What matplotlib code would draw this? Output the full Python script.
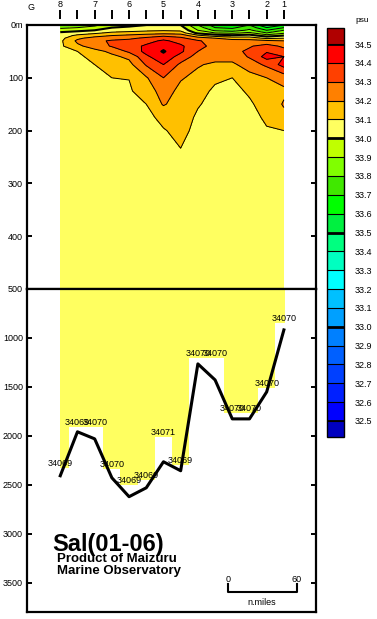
import numpy as np
import matplotlib
matplotlib.use('Agg')
import matplotlib.pyplot as plt
from matplotlib.colors import ListedColormap, BoundaryNorm

plt.rcParams['font.family'] = ['Liberation Sans', 'DejaVu Sans']

# section geometry (n.miles from G)
dist = [29, 44, 59, 74, 89, 104, 119, 134, 149, 164, 179, 194, 209, 224]
stn_names = ['8', '7', '6', '5', '4', '3', '2', '1']
stn_dist = [29, 59, 89, 119, 149, 179, 209, 224]
mid_dist = [44, 74, 104, 134, 164, 194]

depth = [0, 5, 10, 15, 20, 25, 30, 40, 50, 60, 75, 100, 125, 150, 175, 200, 250, 300, 400, 500]

# salinity profiles (psu), one list per column, same order as dist
sal = [
    [33.82, 33.88, 33.95, 34.02, 34.05, 34.07, 34.08, 34.08, 34.07, 34.07, 34.07, 34.07, 34.07, 34.07, 34.07, 34.07, 34.07, 34.07, 34.07, 34.07],
    [33.85, 33.90, 33.97, 34.05, 34.12, 34.18, 34.22, 34.18, 34.10, 34.08, 34.07, 34.07, 34.07, 34.07, 34.07, 34.07, 34.07, 34.07, 34.07, 34.07],
    [33.88, 33.93, 34.00, 34.08, 34.16, 34.24, 34.28, 34.24, 34.17, 34.13, 34.10, 34.08, 34.07, 34.07, 34.07, 34.07, 34.07, 34.07, 34.07, 34.07],
    [33.95, 34.00, 34.05, 34.12, 34.20, 34.27, 34.31, 34.31, 34.22, 34.18, 34.15, 34.10, 34.08, 34.07, 34.07, 34.07, 34.07, 34.07, 34.07, 34.07],
    [33.97, 34.02, 34.06, 34.14, 34.22, 34.28, 34.33, 34.35, 34.32, 34.22, 34.17, 34.102, 34.09, 34.08, 34.07, 34.07, 34.07, 34.07, 34.07, 34.07],
    [34.00, 34.04, 34.08, 34.15, 34.25, 34.32, 34.36, 34.42, 34.43, 34.38, 34.31, 34.19, 34.14, 34.10, 34.08, 34.07, 34.07, 34.07, 34.07, 34.07],
    [34.03, 34.06, 34.09, 34.16, 34.28, 34.36, 34.42, 34.47, 34.51, 34.47, 34.40, 34.30, 34.25, 34.21, 34.12, 34.095, 34.08, 34.07, 34.07, 34.07],
    [34.00, 34.04, 34.08, 34.15, 34.26, 34.32, 34.36, 34.42, 34.42, 34.36, 34.28, 34.21, 34.17, 34.15, 34.13, 34.12, 34.09, 34.08, 34.07, 34.07],
    [33.80, 33.85, 33.90, 33.97, 34.12, 34.25, 34.31, 34.32, 34.30, 34.26, 34.21, 34.17, 34.12, 34.105, 34.09, 34.08, 34.07, 34.07, 34.07, 34.07],
    [33.65, 33.70, 33.78, 33.90, 34.05, 34.20, 34.26, 34.28, 34.27, 34.24, 34.18, 34.11, 34.09, 34.08, 34.07, 34.07, 34.07, 34.07, 34.07, 34.07],
    [33.60, 33.68, 33.75, 33.88, 34.02, 34.16, 34.24, 34.27, 34.27, 34.24, 34.18, 34.10, 34.08, 34.07, 34.07, 34.07, 34.07, 34.07, 34.07, 34.07],
    [33.70, 33.76, 33.82, 33.92, 34.04, 34.15, 34.24, 34.29, 34.32, 34.31, 34.25, 34.16, 34.11, 34.09, 34.08, 34.07, 34.07, 34.07, 34.07, 34.07],
    [33.50, 33.60, 33.70, 33.80, 33.95, 34.08, 34.22, 34.34, 34.39, 34.44, 34.32, 34.20, 34.15, 34.13, 34.11, 34.095, 34.08, 34.07, 34.07, 34.07],
    [33.60, 33.70, 33.80, 33.88, 34.00, 34.10, 34.20, 34.28, 34.34, 34.40, 34.44, 34.24, 34.18, 34.21, 34.17, 34.10, 34.08, 34.07, 34.07, 34.07],
]

# deepest observation per column and value printed there
obs_bottom = [2330, 1908, 1908, 2337, 2500, 2449, 2010, 2296, 1204, 1204, 1765, 1765, 1510, 847]
obs_label = ['34069', '34069', '34070', '34070', '34069', '34069', '34071',
             '34069', '34070', '34070', '34070', '34070', '34070', '34070']

# sea floor depth
bathy = [2408, 1959, 2031, 2429, 2622, 2531, 2265, 2357, 1265, 1429, 1827, 1827, 1551, 918]

levels = np.round(np.arange(32.5, 34.51, 0.1), 1)
colors = ['#0000FF', '#0020FF', '#0040FF', '#0060FF', '#0080FF', '#00A0FF', '#00C0FF',
          '#00FFFF', '#00FFC0', '#00FF80', '#00F040', '#00FF00', '#40E800', '#80FF00',
          '#C0FF00', '#FFFF60', '#FFC000', '#FF8000', '#FF4000', '#FF0000']
cmap = ListedColormap(colors)
cmap.set_under('#0000C0')
cmap.set_over('#B00000')
norm = BoundaryNorm(levels, cmap.N)

W, H = 377, 619
fig = plt.figure(figsize=(W / 100, H / 100), dpi=100)
ax_up = fig.add_axes([27 / W, 1 - 289 / H, 289 / W, 264 / H])
ax_lo = fig.add_axes([27 / W, 1 - 612 / H, 289 / W, 323 / H])

X, Y = np.meshgrid(dist, depth)
Z = np.array(sal).T
cf = ax_up.contourf(X, Y, Z, levels=levels, cmap=cmap, norm=norm, extend='both')
lw = [1.5 if v in (33.0, 33.5, 34.0, 34.5) else 0.7 for v in levels]
ax_up.contour(X, Y, Z, levels=levels, colors='k', linewidths=lw)
ax_up.set_xlim(0, 252)
ax_up.set_ylim(500, 0)

# lower part: data extent + bottom line
d = np.array(dist, dtype=float)
edges = np.concatenate([[d[0]], (d[:-1] + d[1:]) / 2, [d[-1] + 1]])
yellow = cmap(norm(34.05))
ax_lo.bar(edges[:-1], np.array(obs_bottom) - 500, width=np.diff(edges), bottom=500,
          align='edge', color=yellow, linewidth=0)
for x, yb, t in zip(dist, obs_bottom, obs_label):
    ax_lo.text(x, yb, t, ha='center', va='bottom', fontsize=6.5)
ax_lo.plot(dist, bathy, color='k', lw=2.2)
ax_lo.set_xlim(0, 252)
ax_lo.set_ylim(3800, 500)

# scale bar
ax_lo.plot([175, 175, 235, 235], [3510, 3600, 3600, 3510], color='k', lw=1.5)
ax_lo.text(175, 3470, '0', ha='center', va='center', fontsize=6.5)
ax_lo.text(235, 3470, '60', ha='center', va='center', fontsize=6.5)
ax_lo.text(205, 3705, 'n.miles', ha='center', va='center', fontsize=6.5)

for ax in (ax_up, ax_lo):
    for s in ax.spines.values():
        s.set_linewidth(1.6)
    ax.tick_params(axis='x', which='both', bottom=False, top=False, labelbottom=False)
    ax.tick_params(axis='y', direction='in', left=True, right=True, length=3.6,
                   width=1.4, labelsize=6.5, pad=3)

ax_up.set_yticks([0, 100, 200, 300, 400], ['0m', '100', '200', '300', '400'])
ax_lo.set_yticks([500, 1000, 1500, 2000, 2500, 3000, 3500])

sec = ax_up.secondary_xaxis('top')
sec.set_xticks(stn_dist, stn_names)
sec.set_xticks(mid_dist, minor=True)
sec.spines['top'].set_position(('outward', 4.3))
sec.spines['top'].set_visible(False)
sec.tick_params(which='both', direction='out', length=6.5, width=1.4, pad=1, labelsize=6.5)
fig.text(28 / W, 1 - 8 / H, 'G', fontsize=6.5, va='center')

# colorbar
cax = fig.add_axes([327 / W, 1 - 437 / H, 17 / W, 409 / H])
cb = fig.colorbar(cf, cax=cax, extendrect=True, extendfrac=16 / 376, drawedges=True, ticks=levels)
cb.ax.set_yticklabels([f'{v:.1f}' for v in levels])
cb.ax.tick_params(length=0, labelsize=6.5, pad=8)
cb.outline.set_linewidth(1)
cb.dividers.set_linewidth(0.8)
for v in (32.5, 33.0, 33.5, 34.0, 34.5):
    cax.axhline(v, color='k', lw=2)
fig.text(355 / W, 1 - 20 / H, 'psu', fontsize=6, va='center')

fig.text(52 / W, 1 - 544 / H, 'Sal(01-06)', fontsize=17, weight='bold', va='center')
fig.text(57 / W, 1 - 559 / H, 'Product of Maizuru', fontsize=9.5, weight='bold', va='center')
fig.text(57 / W, 1 - 571 / H, 'Marine Observatory', fontsize=9.5, weight='bold', va='center')

fig.savefig('out.png', dpi=100)
